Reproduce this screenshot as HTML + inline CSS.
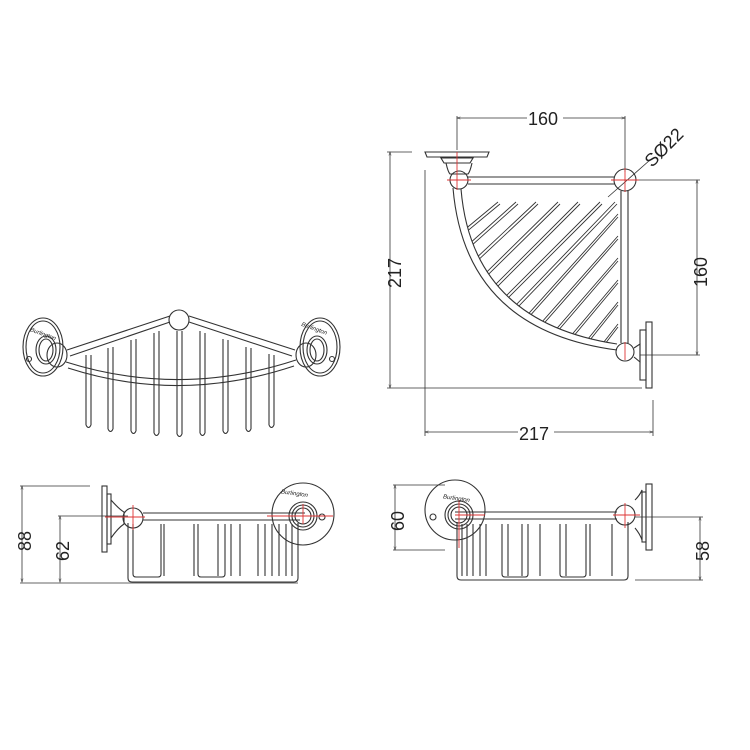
<!DOCTYPE html>
<html><head><meta charset="utf-8"><style>
html,body{margin:0;padding:0;background:#fff;}
svg{display:block}
text{font-family:"Liberation Sans",sans-serif;fill:#222}
</style></head><body>
<svg width="750" height="750" viewBox="0 0 750 750" xmlns="http://www.w3.org/2000/svg">
<defs>
<marker id="a" viewBox="0 0 10 10" refX="9" refY="5" markerWidth="5" markerHeight="7" orient="auto-start-reverse"><path d="M0,2 L10,5 L0,8" fill="none" stroke="#333" stroke-width="1"/></marker>
<clipPath id="hc"><path d="M461,189 Q472,322 617,344 L621,344 L621,185 L461,185 Z"/></clipPath>
</defs>
<g fill="none" stroke="#333" stroke-width="1.1">

<line x1="457" y1="118" x2="625" y2="118" stroke-width="0.8" marker-start="url(#a)" marker-end="url(#a)"/>
<line x1="457" y1="116" x2="457" y2="150" stroke-width="0.8"/>
<line x1="625" y1="116" x2="625" y2="172" stroke-width="0.8"/>
<line x1="390" y1="152" x2="390" y2="388" stroke-width="0.8" marker-start="url(#a)" marker-end="url(#a)"/>
<line x1="387" y1="152" x2="412" y2="152" stroke-width="0.8"/>
<line x1="387" y1="388" x2="642" y2="388" stroke-width="0.8"/>
<line x1="425" y1="432" x2="653" y2="432" stroke-width="0.8" marker-start="url(#a)" marker-end="url(#a)"/>
<line x1="425" y1="170" x2="425" y2="436" stroke-width="0.8"/>
<line x1="653" y1="400" x2="653" y2="436" stroke-width="0.8"/>
<line x1="697" y1="180" x2="697" y2="355" stroke-width="0.8" marker-start="url(#a)" marker-end="url(#a)"/>
<line x1="636" y1="180" x2="700" y2="180" stroke-width="0.8"/>
<line x1="640" y1="355" x2="700" y2="355" stroke-width="0.8"/>
<line x1="608" y1="197" x2="650" y2="160" stroke-width="0.8"/>
<path d="M425,152 L489,152 L487,157 L427,157 Z"/>
<path d="M441,158 L473,158 L470,163 L444,163 Z"/>
<path d="M446,163 Q448,172 450,174 L468,174 Q470,172 472,163"/>
<circle cx="459" cy="180" r="9"/>
<line x1="468" y1="177" x2="615" y2="177"/>
<line x1="468" y1="184" x2="615" y2="184"/>
<circle cx="625" cy="180" r="11"/>
<line x1="621" y1="191" x2="621" y2="343"/>
<line x1="628" y1="191" x2="628" y2="343"/>
<circle cx="625" cy="352" r="9"/>
<path d="M634,348 L640,344 L640,362 L634,357"/>
<rect x="640" y="330" width="6" height="50"/>
<rect x="646" y="322" width="6" height="66"/>
<path d="M453,188 Q465,330 617,350"/>
<path d="M461,189 Q472,322 617,344"/>
<g stroke-width="0.9" clip-path="url(#hc)">
<path d="M440,250 L498,202 M440,270 L516,202 M440,292 L536,202 M440,318 L558,202 M440,340 L578,202 M440,362 L600,202 M440,384 L615,202 M460,390 L618,214 M480,392 L618,236 M500,394 L618,258 M520,396 L618,280 M540,398 L618,302 M560,398 L618,324"/>
<path d="M442,252 L500,204 M442,272 L518,204 M442,294 L538,204 M442,320 L560,204 M442,342 L580,204 M442,364 L602,204 M442,386 L617,204 M462,392 L618,217 M482,394 L618,239 M502,396 L618,261 M522,398 L618,283 M542,400 L618,305 M562,400 L618,327"/>
</g>
<g stroke="#d33" stroke-width="0.9">
<line x1="447" y1="180" x2="471" y2="180"/><line x1="457" y1="152" x2="457" y2="190"/>
<line x1="611" y1="180" x2="639" y2="180"/><line x1="625" y1="168" x2="625" y2="192"/>
<line x1="625" y1="342" x2="625" y2="360"/>
</g>

<ellipse cx="43" cy="347" rx="20" ry="29"/>
<ellipse cx="43" cy="347" rx="17" ry="26"/>
<ellipse cx="46" cy="350" rx="10" ry="14"/>
<ellipse cx="46" cy="350" rx="7" ry="11"/>
<circle cx="29" cy="359" r="2.5"/>
<ellipse cx="57" cy="355" rx="10" ry="12"/>
<ellipse cx="320" cy="347" rx="20" ry="29"/>
<ellipse cx="320" cy="347" rx="17" ry="26"/>
<ellipse cx="317" cy="350" rx="10" ry="14"/>
<ellipse cx="317" cy="350" rx="7" ry="11"/>
<circle cx="332" cy="359" r="2.5"/>
<ellipse cx="306" cy="355" rx="10" ry="12"/>
<circle cx="179" cy="320" r="10"/>
<path d="M67,350 L170,316 M70,356 L170,322"/>
<path d="M189,316 L295,350 M189,322 L292,356"/>
<path d="M66,362 Q180,398 296,360"/>
<path d="M68,368 Q180,404 294,366"/>
<g>
<path d="M86,355 V425 M91,355 V425 M86,425 Q88.5,430 91,425"/>
<path d="M108,348 V429 M113,347 V429 M108,429 Q110.5,434 113,429"/>
<path d="M131,340 V431 M136,339 V431 M131,431 Q133.5,436 136,431"/>
<path d="M154,333 V433 M159,331 V433 M154,433 Q156.5,438 159,433"/>
<path d="M177,331 V434 M182,331 V434 M177,434 Q179.5,439 182,434"/>
<path d="M200,331 V433 M205,333 V433 M200,433 Q202.5,438 205,433"/>
<path d="M223,339 V431 M228,340 V431 M223,431 Q225.5,436 228,431"/>
<path d="M246,347 V429 M251,348 V429 M246,429 Q248.5,434 251,429"/>
<path d="M269,354 V425 M274,355 V425 M269,425 Q271.5,430 274,425"/>
</g>
</g>
<text x="30" y="334" font-size="6" font-style="italic" font-family="Liberation Serif" transform="rotate(20 38 332)">Burlington</text>
<text x="300" y="329" font-size="6" font-style="italic" font-family="Liberation Serif" transform="rotate(20 310 330)">Burlington</text>

<g fill="none" stroke="#333" stroke-width="1.1">
<line x1="22" y1="486" x2="22" y2="582" stroke-width="0.8" marker-start="url(#a)" marker-end="url(#a)"/>
<line x1="20" y1="486" x2="90" y2="486" stroke-width="0.8"/>
<line x1="60" y1="516" x2="60" y2="582" stroke-width="0.8" marker-start="url(#a)" marker-end="url(#a)"/>
<line x1="58" y1="516" x2="128" y2="516" stroke-width="0.8"/>
<line x1="20" y1="583" x2="298" y2="583" stroke-width="0.8"/>
<rect x="102" y="486" width="5" height="66"/>
<rect x="107" y="494" width="4" height="50"/>
<path d="M111,500 Q120,510 124,512 L124,524 Q118,528 111,538"/>
<circle cx="133" cy="518" r="10"/>
<line x1="143" y1="513" x2="305" y2="513"/><line x1="143" y1="520" x2="300" y2="520"/>
<circle cx="303" cy="514" r="31"/>
<circle cx="303" cy="516" r="14"/><circle cx="303" cy="516" r="11"/><circle cx="303" cy="516" r="8"/>
<circle cx="322" cy="517" r="3"/>
<path d="M128,523 V578 Q128,582 132,582 H294 Q298,582 298,578 V523"/>
<path d="M161,524 V574 Q161,577 158,577 H136 Q133,577 133,574 V524 M164,524 V576 M194,524 V576 M198,524 V574 Q198,577 201,577 H222 Q225,577 225,574 V524 M218,524 V576 M231,524 V576 M240,524 V576 M258,524 V576 M265,524 V576 M272,524 V576 M279,524 V576 M286,524 V576 M292,524 V576"/>
<g stroke="#d33" stroke-width="0.9">
<line x1="105" y1="517" x2="145" y2="517"/><line x1="133" y1="505" x2="133" y2="530"/>
<line x1="267" y1="516" x2="333" y2="516"/><line x1="303" y1="504" x2="303" y2="524"/>
</g>

<line x1="395" y1="485" x2="395" y2="550" stroke-width="0.8" marker-start="url(#a)" marker-end="url(#a)"/>
<line x1="393" y1="485" x2="445" y2="485" stroke-width="0.8"/>
<line x1="393" y1="550" x2="445" y2="550" stroke-width="0.8"/>
<line x1="700" y1="517" x2="700" y2="580" stroke-width="0.8" marker-start="url(#a)" marker-end="url(#a)"/>
<line x1="635" y1="517" x2="703" y2="517" stroke-width="0.8"/>
<line x1="635" y1="580" x2="703" y2="580" stroke-width="0.8"/>
<circle cx="455" cy="510" r="30"/>
<circle cx="459" cy="515" r="14"/><circle cx="459" cy="515" r="11"/><circle cx="459" cy="515" r="8"/>
<circle cx="433" cy="517" r="3"/>
<line x1="455" y1="512" x2="617" y2="512"/><line x1="455" y1="519" x2="617" y2="519"/>
<circle cx="625" cy="515" r="10"/>
<path d="M635,500 Q640,495 642,490 L642,540 Q640,534 635,528"/>
<rect x="642" y="492" width="4" height="50"/>
<rect x="646" y="484" width="6" height="66"/>
<path d="M457,522 V576 Q457,580 461,580 H624 Q628,580 628,576 V522"/>
<path d="M462,524 V576 M467,524 V576 M473,524 V576 M480,524 V576 M486,524 V576 M502,524 V574 Q502,577 505,577 H525 Q528,577 528,574 V524 M508,524 V576 M522,524 V576 M540,524 V576 M560,524 V574 Q560,577 563,577 H583 Q586,577 586,574 V524 M566,524 V576 M590,524 V576 M612,524 V576"/>
<g stroke="#d33" stroke-width="0.9">
<line x1="455" y1="515" x2="485" y2="515"/><line x1="459" y1="500" x2="459" y2="548"/>
<line x1="613" y1="515" x2="640" y2="515"/><line x1="625" y1="503" x2="625" y2="528"/>
</g>
</g>
<text x="443" y="500" font-size="6" font-style="italic" font-family="Liberation Serif" transform="rotate(8 455 498)">Burlington</text>
<text x="281" y="496" font-size="6" font-style="italic" font-family="Liberation Serif" transform="rotate(8 300 494)">Burlington</text>

<g font-size="18">
<rect x="527" y="108" width="36" height="18" fill="#fff"/>
<text x="528" y="125">160</text>
<text x="0" y="0" transform="translate(401,288) rotate(-90)">217</text>
<rect x="518" y="423" width="36" height="18" fill="#fff"/>
<text x="519" y="440">217</text>
<text x="0" y="0" transform="translate(707,287) rotate(-90)">160</text>
<text x="0" y="0" transform="translate(652,168) rotate(-45)">SØ22</text>
<text x="0" y="0" transform="translate(31,551) rotate(-90)">88</text>
<text x="0" y="0" transform="translate(69,561) rotate(-90)">62</text>
<text x="0" y="0" transform="translate(404,531) rotate(-90)">60</text>
<text x="0" y="0" transform="translate(709,561) rotate(-90)">58</text>
</g>
</svg>
</body></html>
